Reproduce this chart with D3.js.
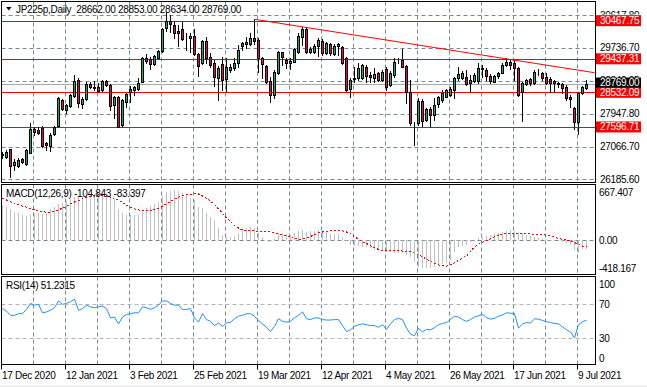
<!DOCTYPE html>
<html>
<head>
<meta charset="utf-8">
<script src="https://cdnjs.cloudflare.com/ajax/libs/d3/7.8.5/d3.min.js"></script>
<style>
body { margin: 0; background: #fff; }
svg text { font-family: "Liberation Sans", Arial, sans-serif; font-size: 10px; letter-spacing: -0.3px; white-space: pre; }
</style>
</head>
<body>
<svg id="chart" width="647" height="387"></svg>
<script>
// daily bars, 17 Dec 2020 .. 13 Jul 2021
const opens = [26840,26794,26994,26570,26551,26724,26597,26902,27542,27515,
27561,27156,27083,27399,27623,28325,28055,28163,28433,28865,
28217,28344,28757,28663,28684,28595,28838,28730,28190,28414,
27650,28279,28549,28595,28622,28819,29467,29432,29297,29451,
29648,30261,30458,30350,30196,30234,30007,29991,30053,29559,
29316,29918,29494,29332,28911,29297,28884,29135,29181,29316,
29783,29829,29829,29991,29945,29451,29243,28846,28460,29046,
29613,29405,29316,29359,29629,30034,30234,29629,29629,29783,
29918,29586,29829,29567,29783,29748,29451,28614,28884,28911,
28911,29208,28992,28927,29062,28865,29154,28730,29000,29392,
29405,29243,28549,27696,27712,28306,27785,28074,27920,28217,
28325,28414,28460,28595,28911,28927,28954,28776,28838,28838,
29181,29135,28973,28819,28973,29062,29270,29359,29316,29181,
28549,28757,28892,28792,29054,29062,28954,28884,28838,28776,
28757,28668,28398,28101,27739,28522,28662];
const highs = [26921,26975,27002,26724,26746,26759,27002,27696,27604,27596,
27623,27199,27442,27623,28393,28352,28217,28487,29000,28911,
28398,28819,28811,28846,28784,28865,28865,28757,28433,28433,
28344,28514,28703,28703,28911,29494,29567,29494,29540,29675,
30269,30709,30620,30458,30350,30458,30126,30126,30234,29602,
29945,30018,29602,29405,29243,29494,29451,29297,29459,29810,
29891,30034,30134,30504,29991,29494,29270,28954,29135,29648,
29629,29451,29451,29729,30126,30304,30304,29764,29837,29991,
29964,29891,29864,29837,29856,29783,29486,28911,29208,29316,
29297,29270,29089,29181,29089,29135,29208,29108,29451,29451,
29694,29270,28865,27739,28371,28344,28109,28144,28371,28433,
28595,28622,28684,28954,29208,29108,29135,29000,29054,29316,
29270,29181,29027,29000,29089,29316,29467,29424,29405,29208,
28819,28892,28911,29135,29154,29089,29046,28954,28865,28819,
28776,28730,28460,28144,28549,28703,28853];
const lows = [26759,26759,26254,26435,26516,26624,26570,26881,27380,27407,
27048,26975,26956,27380,27596,28055,27966,28136,28406,28144,
28101,28325,28649,28595,28541,28568,28703,28055,27831,27583,
27604,28144,28279,28460,28595,28811,29316,29154,29270,29432,
29621,30196,30169,29991,29783,29945,29675,29629,29540,28981,
29297,29316,29208,28703,28325,28595,28549,29081,29135,29208,
29675,29721,29810,29837,29089,28919,28792,28279,28371,29027,
29270,29181,29154,29338,29586,29810,29602,29586,29594,29513,
29540,29567,29553,29540,29540,29297,28568,28414,28819,28865,
28892,28819,28819,28819,28838,28838,28595,28703,28954,29316,
29208,28244,27650,27110,27650,27623,27758,27588,27785,28144,
28279,28398,28433,28371,28865,28892,28730,28549,28811,28776,
28954,28865,28792,28811,28911,29046,29243,29154,28865,28433,
27766,28730,28730,28757,29000,28865,28757,28549,28549,28684,
28522,28325,28128,27534,27407,28487,28634];
const closes = [26867,26929,26551,26659,26705,26659,26975,27534,27461,27442,
27083,27110,27388,27588,28371,28074,28190,28452,28838,28236,
28352,28757,28684,28649,28568,28846,28730,28163,28398,27604,
28325,28487,28622,28684,28792,29467,29386,29297,29513,29648,
30242,30458,30377,30126,30126,29972,29991,30053,29559,29243,
29918,29451,29270,28938,29181,28865,29208,29224,29332,29675,
29856,29883,30007,29926,29451,29297,28819,28460,29089,29629,
29494,29316,29386,29694,30053,30234,29629,29694,29783,29945,
29586,29856,29586,29791,29829,29316,28595,28865,28919,29181,
29270,28981,28954,29019,28865,29089,28684,29062,29359,29405,
29224,28549,27712,27712,28306,27766,28074,27920,28190,28398,
28522,28595,28614,28911,29027,29062,28757,28865,29000,29181,
29162,28973,28838,28973,29062,29270,29359,29270,29181,28460,
28776,28865,28792,29089,29062,28911,28792,28776,28776,28757,
28641,28371,28344,27739,28522,28668,28769];

const macdMain = [433,405,380,351,330,310,297,305,320,330,
318,330,380,410,440,460,480,510,530,540,
545,555,560,565,570,575,575,560,510,380,
330,315,310,305,310,360,400,420,440,470,
540,590,610,615,600,580,560,520,495,412,
396,330,289,248,145,63,42,42,51,84,
125,145,165,145,84,42,1,-19,9,84,
84,75,63,84,116,125,104,116,116,125,
125,100,80,75,70,40,-10,-60,-70,-75,
-80,-85,-100,-120,-130,-140,-150,-145,-155,-160,
-165,-180,-210,-265,-335,-345,-350,-345,-335,-310,
-295,-285,-245,-145,-85,-70,-60,-20,0,20,
35,50,60,80,90,105,115,125,115,100,
85,65,45,35,25,15,8,-5,-10,-12,
-20,-35,-60,-120,-155,-110,-104.843];
const macdSignal = [515,495,474,453,435,420,405,390,375,360,
351,345,343,355,375,392,420,446,470,490,
510,525,536,548,557,552,540,530,510,495,
465,433,405,385,372,362,359,362,375,392,
420,450,475,505,530,550,560,568,570,569,
545,515,480,440,385,330,270,230,180,150,
125,120,116,112,108,104,104,100,92,80,
65,50,34,20,9,15,30,45,65,90,
100,110,116,116,116,115,100,84,40,10,
-20,-40,-70,-95,-115,-125,-130,-130,-130,-130,
-135,-140,-143,-160,-180,-205,-235,-260,-285,-305,
-315,-320,-305,-280,-250,-220,-195,-140,-85,-50,
-25,-7,15,40,55,70,84,85,85,84,
82,78,76,72,68,65,62,50,35,22,
10,0,-10,-30,-55,-73,-83.397];

// RSI(14)
const rsiValues = [65,62,57,57,59,59,64,71,69,70,
60,61,63,66,74,70,71,73,76,63,
65,69,67,66,67,68,65,54,55,47,
55,58,59,60,60,67,66,64,66,69,
74,74,71,69,69,64,64,65,54,49,
59,52,50,45,48,44,48,49,53,56,
57,59,59,56,51,47,43,38,44,53,
50,49,50,54,57,61,53,52,54,54,
52,51.5,51.5,52,52,45,38,40,44,46,
47,46,45,45,43,46,40.5,47,52,53.5,
52,42,35,33,41.7,37.5,40.5,40,42.5,46,
47.5,48.5,52,56,55,52,50,52,55,56.5,
58,54.5,52.5,53.5,56,57.5,60,59.5,59,42,
47,48.5,48,53,52.5,51,49.5,48.5,47.5,47,
43.5,40,37.5,30.5,46,49.5,51.2315];

const priceTicks = [30617.80, 29736.70, 28842.25, 27947.80, 27066.70, 26185.60];
const levels = [30467.75, 29437.31, 28532.09, 27596.71];
const trendPoints = [{ i: 63, p: 30504 }, { i: 148, p: 29062 }];
const macdTicks = [667.407, 0, -418.167];
const rsiTicks = [100, 70, 30, 0];
const rsiLevels = [70, 30];
const dateTicks = [
    { i: 0, label: "17 Dec 2020" }, { i: 16, label: "12 Jan 2021" }, { i: 32, label: "3 Feb 2021" },
    { i: 48, label: "25 Feb 2021" }, { i: 64, label: "19 Mar 2021" }, { i: 80, label: "12 Apr 2021" },
    { i: 96, label: "4 May 2021" }, { i: 112, label: "26 May 2021" }, { i: 128, label: "17 Jun 2021" },
    { i: 144, label: "9 Jul 2021" }
];

const svg = d3.select("#chart");
const left = 1.5, right = 595.5;
const main = { top: 1.5, bottom: 182.5 };
const macdPanel = { top: 184.5, bottom: 274.5 };
const rsiPanel = { top: 276.5, bottom: 364.5 };
const gridColor = "#778899";
const last = closes.length - 1;

const x = d3.scaleLinear().domain([0, 146]).range([2.5, 586.5]);
const y = d3.scaleLinear().domain([26185.6, 30617.8]).range([179.2, 15.1]);
const yMacd = d3.scaleLinear().domain([-418.167, 667.407]).range([274, 186]);
const yRsi = d3.scaleLinear().domain([0, 100]).range([363.8, 278.8]);
const px = v => Math.round(v) + 0.5;

svg.append("rect").attr("width", 647).attr("height", 387).attr("fill", "#fff");
svg.append("rect").attr("y", 385).attr("width", 647).attr("height", 2).attr("fill", "#f0f0f0");

const defs = svg.append("defs");
[["clipMain", main], ["clipMacd", macdPanel], ["clipRsi", rsiPanel]].forEach(([id, p]) => {
    defs.append("clipPath").attr("id", id).append("rect")
        .attr("x", left).attr("y", p.top).attr("width", right - left).attr("height", p.bottom - p.top);
});
// the top price label is half hidden under the first level box
defs.append("clipPath").attr("id", "clipTopLabel").append("rect")
    .attr("x", 596).attr("y", 0).attr("width", 51).attr("height", 14.5);

// vertical grid, every 8 bars, all three windows
const gridIdx = d3.range(8, 147, 8);
[main, macdPanel, rsiPanel].forEach(p => {
    svg.append("g").selectAll("line").data(gridIdx).enter().append("line")
        .attr("x1", d => x(d) - 1).attr("x2", d => x(d) - 1)
        .attr("y1", p.top).attr("y2", p.bottom)
        .attr("stroke", gridColor).attr("stroke-dasharray", "4,3");
});

// ---------- main window ----------
const gMain = svg.append("g").attr("clip-path", "url(#clipMain)");

gMain.selectAll(".hgrid").data(priceTicks).enter().append("line")
    .attr("x1", left).attr("x2", right)
    .attr("y1", d => px(y(d))).attr("y2", d => px(y(d)))
    .attr("stroke", gridColor).attr("stroke-dasharray", "4,3");

gMain.append("line")
    .attr("x1", left).attr("x2", right)
    .attr("y1", px(y(closes[last]))).attr("y2", px(y(closes[last])))
    .attr("stroke", "#a9a9a9");

gMain.selectAll(".level").data(levels).enter().append("line")
    .attr("x1", left).attr("x2", right)
    .attr("y1", d => px(y(d))).attr("y2", d => px(y(d)))
    .attr("stroke", "#ff0000");

const bars = d3.range(closes.length);

gMain.selectAll(".wick").data(bars).enter().append("line")
    .attr("x1", d => x(d)).attr("x2", d => x(d))
    .attr("y1", d => Math.round(y(highs[d]))).attr("y2", d => Math.round(y(lows[d])) + 1)
    .attr("stroke", "#000");

gMain.selectAll(".body").data(bars).enter().append("rect")
    .attr("x", d => x(d) - 1)
    .attr("width", 2)
    .attr("y", d => px(y(Math.max(opens[d], closes[d]))))
    .attr("height", d => Math.max(0, Math.round(y(Math.min(opens[d], closes[d]))) - Math.round(y(Math.max(opens[d], closes[d])))))
    .attr("fill", d => closes[d] >= opens[d] ? "#2ca05a" : "#dc143c")
    .attr("stroke", "#000");

gMain.append("line")
    .attr("x1", x(trendPoints[0].i)).attr("y1", y(trendPoints[0].p))
    .attr("x2", x(trendPoints[1].i)).attr("y2", y(trendPoints[1].p))
    .attr("stroke", "#ff0000");

// title
svg.append("path").attr("d", "M6,7 L11.5,7 L8.75,10.5 Z").attr("fill", "#000");
svg.append("text").attr("x", 16).attr("y", 12.5).attr("fill", "#000")
    .text(`JP225p,Daily  ${opens[last].toFixed(2)} ${highs[last].toFixed(2)} ${lows[last].toFixed(2)} ${closes[last].toFixed(2)}`);

// ---------- MACD window ----------
const gMacd = svg.append("g").attr("clip-path", "url(#clipMacd)");
gMacd.append("line")
    .attr("x1", left).attr("x2", right).attr("y1", px(yMacd(0))).attr("y2", px(yMacd(0)))
    .attr("stroke", gridColor).attr("stroke-dasharray", "4,3");
gMacd.selectAll(".hist").data(bars).enter().append("line")
    .attr("x1", d => x(d)).attr("x2", d => x(d))
    .attr("y1", Math.round(yMacd(0)))
    .attr("y2", d => Math.round(yMacd(macdMain[d])))
    .attr("stroke", "#c0c0c0");
gMacd.append("path").datum(macdSignal)
    .attr("d", d3.line().x((d, i) => x(i)).y(d => yMacd(d)))
    .attr("fill", "none").attr("stroke", "#ff0000").attr("stroke-dasharray", "2,2")
    .attr("shape-rendering", "crispEdges");
svg.append("text").attr("x", 6).attr("y", 196.5).attr("fill", "#000")
    .text(`MACD(12,26,9) ${macdMain[last].toFixed(3)} ${macdSignal[last].toFixed(3)}`);

// ---------- RSI window ----------
const gRsi = svg.append("g").attr("clip-path", "url(#clipRsi)");
gRsi.selectAll(".rlevel").data(rsiLevels).enter().append("line")
    .attr("x1", left).attr("x2", right)
    .attr("y1", d => px(yRsi(d))).attr("y2", d => px(yRsi(d)))
    .attr("stroke", "#b4b4b4").attr("stroke-dasharray", "4,3");
gRsi.append("path").datum(rsiValues)
    .attr("d", d3.line().x((d, i) => x(i)).y(d => yRsi(d)))
    .attr("fill", "none").attr("stroke", "#1e90ff");
svg.append("text").attr("x", 6).attr("y", 289).attr("fill", "#000")
    .text(`RSI(14) ${rsiValues[last].toFixed(4)}`);

// ---------- frames ----------
[main, macdPanel, rsiPanel].forEach(p => {
    svg.append("rect").attr("x", left).attr("y", p.top)
        .attr("width", right - left).attr("height", p.bottom - p.top)
        .attr("fill", "none").attr("stroke", "#000");
});

// ---------- right scales ----------
const clampY = (v, p) => Math.min(Math.max(v + 3.5, p.top + 11), p.bottom - 2.5);

svg.selectAll(".ptick").data(priceTicks).enter().append("text")
    .attr("x", 600).attr("y", d => y(d) + 3.5).attr("fill", "#000")
    .attr("clip-path", (d, i) => i === 0 ? "url(#clipTopLabel)" : null)
    .text(d => d.toFixed(2));

levels.forEach(v => {
    svg.append("rect").attr("x", 596).attr("y", y(v) - 5.5).attr("width", 45).attr("height", 11).attr("fill", "#ff0000");
    svg.append("text").attr("x", 600).attr("y", y(v) + 3.5).attr("fill", "#fff").text(v.toFixed(2));
});
svg.append("rect").attr("x", 596).attr("y", y(closes[last]) - 6).attr("width", 45).attr("height", 10).attr("fill", "#000");
svg.append("text").attr("x", 600).attr("y", y(closes[last]) + 2.5).attr("fill", "#fff").text(closes[last].toFixed(2));

svg.selectAll(".mtick").data(macdTicks).enter().append("text")
    .attr("x", 599).attr("y", d => clampY(yMacd(d), macdPanel)).attr("fill", "#000")
    .text(d => d === 0 ? "0.00" : d.toFixed(3));

svg.selectAll(".rtick").data(rsiTicks).enter().append("text")
    .attr("x", 599).attr("y", d => clampY(yRsi(d), rsiPanel)).attr("fill", "#000")
    .text(d => d);

// ---------- time scale ----------
svg.selectAll(".dtick").data(dateTicks).enter().append("line")
    .attr("x1", d => x(d.i) - 1).attr("x2", d => x(d.i) - 1)
    .attr("y1", rsiPanel.bottom).attr("y2", rsiPanel.bottom + 5)
    .attr("stroke", "#000");
svg.selectAll(".dlabel").data(dateTicks).enter().append("text")
    .attr("x", d => x(d.i) - 0.5).attr("y", 378.5).attr("fill", "#000")
    .text(d => d.label);
</script>
</body>
</html>
